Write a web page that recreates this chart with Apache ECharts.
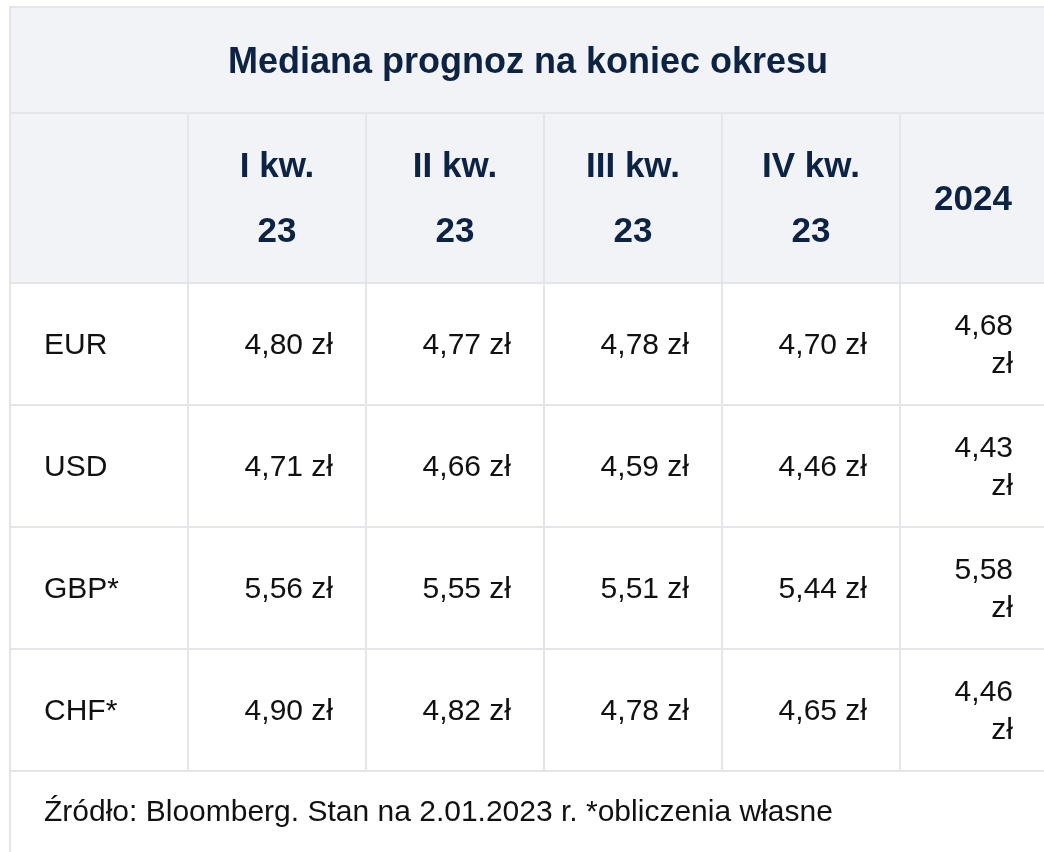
<!DOCTYPE html>
<html>
<head>
<meta charset="utf-8">
<script src="https://cdn.jsdelivr.net/npm/echarts@6/dist/echarts.min.js"></script>
<style>
  html, body { margin: 0; padding: 0; background: #fff; }
  #chart { width: 1044px; height: 852px; }
</style>
</head>
<body>
<div id="chart"></div>
<script>
const title = 'Mediana prognoz na koniec okresu';
const periods = ['I kw.\n23', 'II kw.\n23', 'III kw.\n23', 'IV kw.\n23', '2024'];
const currencies = ['EUR', 'USD', 'GBP*', 'CHF*'];
const eur = [4.80, 4.77, 4.78, 4.70, 4.68];
const usd = [4.71, 4.66, 4.59, 4.46, 4.43];
const gbp = [5.56, 5.55, 5.51, 5.44, 5.58];
const chf = [4.90, 4.82, 4.78, 4.65, 4.46];
const source = 'Źródło: Bloomberg. Stan na 2.01.2023 r. *obliczenia własne';

// table grid, in page pixels (the last column runs past the right edge)
const colEdges = [10, 188, 366, 544, 722, 900, 1046];
const rowEdges = [7, 113, 283, 405, 527, 649, 771, 880];

const NAVY = '#0c2344';
const FONT = '"Liberation Sans", Arial, Helvetica, sans-serif';

const fmt = v => v.toFixed(2).replace('.', ',') + ' zł';

// measure text so the narrow last column wraps like the browser table does
const ctx = document.createElement('canvas').getContext('2d');
ctx.font = '30px ' + FONT;
function wrap(text, avail) {
  return ctx.measureText(text).width > avail ? text.replace(' ', '\n') : text;
}

const rows = [eur, usd, gbp, chf];
const cells = [];
const last = colEdges.length - 1;
cells.push({ c0: 0, c1: last, r0: 0, r1: 1, text: title, kind: 'title' });
cells.push({ c0: 0, c1: 1, r0: 1, r1: 2, text: '', kind: 'head' });
periods.forEach((p, i) => {
  cells.push({ c0: i + 1, c1: i + 2, r0: 1, r1: 2, text: p, kind: 'head' });
});
currencies.forEach((cur, r) => {
  cells.push({ c0: 0, c1: 1, r0: r + 2, r1: r + 3, text: cur, kind: 'label' });
  rows[r].forEach((v, i) => {
    const w = colEdges[i + 2] - colEdges[i + 1] - 66;
    cells.push({ c0: i + 1, c1: i + 2, r0: r + 2, r1: r + 3, text: wrap(fmt(v), w), kind: 'value' });
  });
});
cells.push({ c0: 0, c1: last, r0: 6, r1: 7, text: source, kind: 'foot' });

const seriesData = cells.map(c => [colEdges[c.c0], rowEdges[c.r0], colEdges[c.c1], rowEdges[c.r1]]);

function renderItem(params, api) {
  const cell = cells[params.dataIndex];
  const p0 = api.coord([api.value(0), api.value(1)]);
  const p1 = api.coord([api.value(2), api.value(3)]);
  const isHead = cell.kind === 'title' || cell.kind === 'head';
  const rect = {
    type: 'rect',
    shape: { x: p0[0], y: p0[1], width: p1[0] - p0[0], height: p1[1] - p0[1] },
    style: { fill: isHead ? '#f1f3f6' : '#ffffff', stroke: '#e3e5e9', lineWidth: 2 }
  };
  const midY = (p0[1] + p1[1]) / 2 + 2;
  let text;
  if (cell.kind === 'title') {
    text = { x: (p0[0] + p1[0]) / 2, y: midY + 1, align: 'center', font: 'bold 36px ' + FONT, fill: NAVY, lh: 40 };
  } else if (cell.kind === 'head') {
    text = { x: (p0[0] + p1[0]) / 2, y: midY, align: 'center', font: 'bold 35px ' + FONT, fill: NAVY, lh: 65 };
  } else if (cell.kind === 'label') {
    text = { x: p0[0] + 34, y: midY, align: 'left', font: '30px ' + FONT, fill: '#111', lh: 38 };
  } else if (cell.kind === 'value') {
    text = { x: p1[0] - 33, y: midY, align: 'right', font: '30px ' + FONT, fill: '#111', lh: 38 };
  } else {
    text = { x: p0[0] + 34, y: p0[1] + 42, align: 'left', font: '30px ' + FONT, fill: '#111', lh: 38 };
  }
  return {
    type: 'group',
    children: [
      rect,
      {
        type: 'text',
        x: text.x,
        y: text.y,
        style: {
          text: cell.text,
          fill: text.fill,
          font: text.font,
          align: text.align,
          verticalAlign: 'middle',
          lineHeight: text.lh
        }
      }
    ]
  };
}

const chart = echarts.init(document.getElementById('chart'), null, { renderer: 'canvas' });
chart.setOption({
  animation: false,
  backgroundColor: '#fff',
  grid: { left: 0, right: 0, top: 0, bottom: 0 },
  xAxis: { type: 'value', min: 0, max: 1044, show: false },
  yAxis: { type: 'value', min: 0, max: 852, inverse: true, show: false },
  series: [{
    type: 'custom',
    renderItem: renderItem,
    clip: true,
    encode: { x: [0, 2], y: [1, 3] },
    data: seriesData
  }]
});
</script>
</body>
</html>
